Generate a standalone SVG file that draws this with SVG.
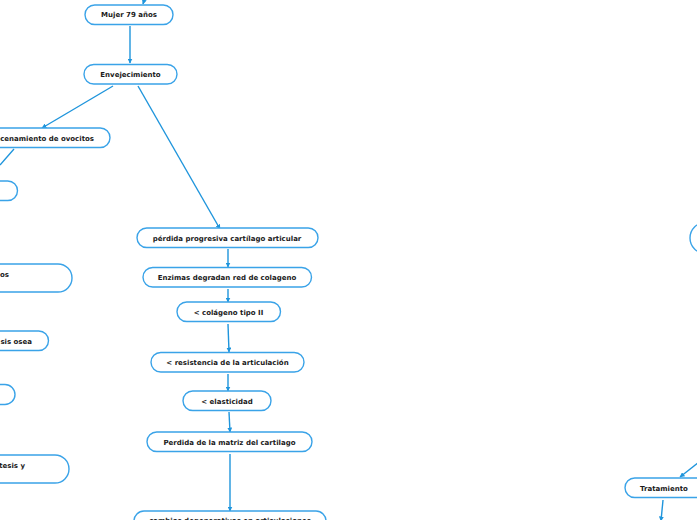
<svg xmlns="http://www.w3.org/2000/svg" width="697" height="520" viewBox="0 0 697 520">
<style>
.n rect{fill:#fff;stroke:#3aa3e8;stroke-width:1.4}
.n text{font-family:"DejaVu Sans",Verdana,sans-serif;font-weight:bold;font-size:7px;fill:#1a1a1a;text-anchor:middle}
.c path{fill:none;stroke:#1f95dc;stroke-width:1.4;marker-end:url(#ah)}
.c path.nm{marker-end:none}
</style>
<defs>
<marker id="ah" viewBox="0 0 10 10" refX="9" refY="5" markerWidth="5" markerHeight="5" orient="auto" markerUnits="userSpaceOnUse">
<path d="M0,0 L10,5 L0,10 z" fill="#1f95dc"/>
</marker>
</defs>
<rect width="697" height="520" fill="#fff"/>
<g class="c" id="connectors">
<path d="M146,-6 L143,4"/>
<path d="M130,26 L130,63"/>
<path d="M113,86 L42,128"/>
<path class="nm" d="M14,149 L0,165"/>
<path d="M138,86 L220,229"/>
<path d="M228,249 L228,267"/>
<path d="M228,289 L228,302"/>
<path d="M228,324 L229,352"/>
<path d="M228,374 L228,391"/>
<path d="M229,412 L230,432"/>
<path d="M230,454 L230,511"/>
<path d="M712,452 L680,477"/>
<path d="M663,500 L661,521"/>
</g>
<g class="n" id="n-mujer"><rect x="85" y="5" width="88" height="19.5" rx="9.75"/><text x="129" y="17">Mujer 79 años</text></g>
<g class="n" id="n-envejecimiento"><rect x="84" y="64.5" width="93" height="19.5" rx="9.75"/><text x="130.5" y="77">Envejecimiento</text></g>
<g class="n" id="n-ovocitos"><rect x="-60" y="128" width="170" height="19.5" rx="9.75"/><text x="94" y="140.5" style="text-anchor:end">almacenamiento de ovocitos</text></g>
<g class="n" id="n-left1"><rect x="-60" y="181" width="77.5" height="19.5" rx="9.75"/></g>
<g class="n" id="n-left2"><rect x="-100" y="264" width="172" height="28" rx="14"/><text x="9" y="277" style="text-anchor:end">os</text></g>
<g class="n" id="n-left3"><rect x="-80" y="331" width="128.5" height="19.5" rx="9.75"/><text x="32" y="343.5" style="text-anchor:end">sis osea</text></g>
<g class="n" id="n-left4"><rect x="-60" y="384.5" width="75" height="20" rx="10"/></g>
<g class="n" id="n-left5"><rect x="-100" y="455" width="169" height="28" rx="14"/><text x="25" y="467.5" style="text-anchor:end">tesis y</text></g>
<g class="n" id="n-perdida"><rect x="137" y="228" width="181" height="19.5" rx="9.75"/><text x="227" y="240.5">pérdida progresiva cartílago articular</text></g>
<g class="n" id="n-enzimas"><rect x="143" y="267.5" width="168.5" height="19.5" rx="9.75"/><text x="227" y="280">Enzimas degradan red de colageno</text></g>
<g class="n" id="n-colageno"><rect x="177" y="302" width="103.5" height="19.5" rx="9.75"/><text x="228.5" y="314.5">&lt; colágeno tipo II</text></g>
<g class="n" id="n-resistencia"><rect x="151" y="352.5" width="153" height="19.5" rx="9.75"/><text x="227.5" y="365">&lt; resistencia de la articulación</text></g>
<g class="n" id="n-elasticidad"><rect x="183" y="391" width="88" height="19.5" rx="9.75"/><text x="227" y="403.5">&lt; elasticidad</text></g>
<g class="n" id="n-matriz"><rect x="147" y="432" width="165" height="19.5" rx="9.75"/><text x="229.5" y="444.5">Perdida de la matriz del cartilago</text></g>
<g class="n" id="n-cambios"><rect x="134" y="511" width="192" height="20" rx="10"/><text x="230" y="523">cambios degenerativos en articulaciones</text></g>
<g class="n" id="n-right"><rect x="690" y="222.5" width="60" height="31" rx="15.5"/></g>
<g class="n" id="n-tratamiento"><rect x="625" y="478" width="72" height="19.5" rx="9.75" style="stroke:none"/><path d="M697,478 L634.75,478 A9.75,9.75 0 0 0 634.75,497.5 L697,497.5" fill="none" stroke="#3aa3e8" stroke-width="1.4"/><text x="664" y="490.5">Tratamiento</text></g>
</svg>
